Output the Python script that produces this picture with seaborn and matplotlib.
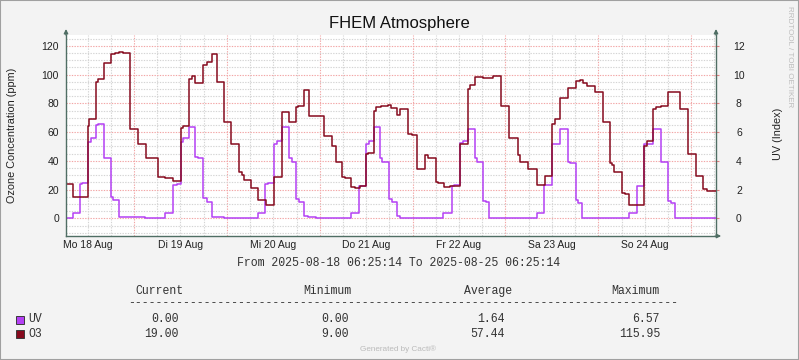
import matplotlib
matplotlib.use("Agg")
import matplotlib.pyplot as plt
import matplotlib.dates as mdates
from matplotlib.patches import Rectangle
from matplotlib.ticker import MultipleLocator
import pandas as pd
import seaborn as sns

# time window of the graph
start = pd.Timestamp("2025-08-18 06:25:14")
end = pd.Timestamp("2025-08-25 06:25:14")

# O3 steps: hours after start -> ppm
o3_hours = [0, 1.73, 5.69, 6.07, 7.68, 8.27, 9.74, 11.55, 12.66, 13.70,
            14.65, 16.62, 18.53, 20.75, 23.70, 25.59, 27.73, 29.64, 30.24, 31.79,
            32.64, 33.42, 35.49, 36.36, 37.73, 38.95, 40.76, 42.64, 44.63, 45.36,
            46.00, 47.74, 49.54, 51.17, 51.69, 53.68, 55.75, 57.63, 59.52, 59.96,
            61.59, 62.73, 66.60, 68.67, 69.78, 71.41, 72.11, 73.58, 74.69, 75.98,
            77.61, 78.05, 79.52, 80.12, 81.41, 83.14, 83.92, 85.63, 86.25, 88.47,
            89.35, 90.64, 92.71, 93.64, 95.55, 96.22, 97.69, 99.24, 101.75, 103.82,
            104.41, 105.71, 107.85, 110.44, 112.43, 114.57, 116.74, 117.34, 119.48, 121.65,
            123.80, 125.53, 126.38, 127.67, 129.66, 131.73, 132.84, 133.70, 134.57, 136.72,
            138.87, 140.52, 141.04, 141.71, 143.62, 144.47, 145.51, 149.46, 150.16, 151.63,
            152.41, 153.78, 155.67, 158.69, 160.83, 162.75, 164.56, 165.59, 168.0]
o3_values = [24, 14.5, 64.5, 69, 95, 97, 108, 114.5, 115.3, 115.95,
             115, 62, 52, 42, 29, 28, 26, 63, 64.5, 97,
             99, 94.5, 107, 108.6, 114.5, 95, 67, 51.5, 32, 30,
             27, 21, 12.5, 13, 9, 28.5, 74, 67.3, 77.5, 78,
             89, 71.5, 57, 50, 39, 29, 28, 22, 21.3, 22.5,
             44.5, 45.5, 75, 77.7, 78, 78.7, 76.5, 72, 76, 59,
             58, 34.3, 44, 42, 25.5, 24.6, 22, 22.5, 51.7, 90,
             92.6, 98.4, 97.7, 98.8, 78, 55.7, 44, 39, 34.3, 23,
             29.7, 66, 69, 83.6, 90.5, 95.8, 96.5, 94.2, 92, 88,
             67, 38.3, 37.4, 32, 17.8, 17, 9, 50, 53.6, 76.3,
             77.7, 78.4, 87.7, 76, 45, 29.7, 20.2, 19, 19]

# UV steps: hours after start -> UV index
uv_hours = [0, 1.73, 3.62, 4.14, 5.61, 6.38, 7.68, 8.35, 9.74, 11.55,
            12.22, 13.78, 20.42, 25.59, 27.73, 28.61, 29.64, 30.31, 31.79, 33.42,
            34.19, 35.49, 36.36, 37.73, 40.84, 49.54, 51.43, 52.13, 53.68, 54.46,
            55.75, 57.63, 58.33, 59.52, 60.22, 61.59, 62.62, 64.54, 73.58, 75.80,
            77.61, 78.31, 79.52, 81.23, 81.75, 83.48, 84.18, 85.63, 86.32, 97.51,
            99.68, 100.28, 101.75, 102.53, 103.82, 104.41, 105.71, 106.30, 107.70, 108.55,
            109.40, 121.65, 123.54, 125.53, 127.67, 128.53, 129.66, 130.26, 131.73, 132.40,
            133.44, 145.51, 147.57, 149.46, 151.63, 153.78, 155.67, 156.36, 157.40, 168.0]
uv_values = [0, 0.35, 2.4, 2.48, 5.3, 5.57, 6.5, 6.57, 4.22, 1.5,
             1.27, 0.07, 0, 0.35, 2.35, 2.42, 5.3, 5.57, 6.34, 4.3,
             4.22, 1.44, 1.11, 0.07, 0, 0.35, 2.4, 2.48, 5.15, 5.38,
             6.34, 4.22, 3.94, 1.34, 1.11, 0.16, 0.12, 0, 0.35, 2.25,
             5.15, 5.38, 6.34, 4.22, 3.94, 1.34, 1.11, 0.16, 0, 0.35,
             2.25, 2.32, 5.27, 5.38, 6.2, 6.22, 4.18, 3.94, 1.2, 1.11,
             0, 0.35, 2.32, 5.15, 6.2, 6.22, 3.94, 3.83, 1.27, 1.04,
             0, 0.35, 2.27, 5.15, 6.2, 3.94, 1.2, 1.04, 0, 0]

day_labels = ["Mo 18 Aug", "Di 19 Aug", "Mi 20 Aug", "Do 21 Aug",
              "Fr 22 Aug", "Sa 23 Aug", "So 24 Aug"]
left_ticks = [0, 20, 40, 60, 80, 100, 120]
right_ticks = [0, 2, 4, 6, 8, 10, 12]

# legend table
stat_headers = ["Current", "Minimum", "Average", "Maximum"]
series_names = ["UV", "O3"]
uv_stats = ["0.00", "0.00", "1.64", "6.57"]
o3_stats = ["19.00", "9.00", "57.44", "115.95"]

UV_COLOR = "#B440F4"
O3_COLOR = "#860A1E"
AXIS_COLOR = "#4F6E64"
BG = "#F3F3F3"

sns.set_theme(style="white")
plt.rcParams["font.family"] = ["Liberation Sans", "DejaVu Sans"]

W, H = 799, 360
fig = plt.figure(figsize=(W / 100, H / 100), dpi=100, facecolor=BG)


def fx(px):
    return px / W


def fy(py):
    return 1 - py / H


ax = fig.add_axes([fx(66), fy(236), fx(650), (236 - 35) / H])
ax.set_facecolor("white")

uv_df = pd.DataFrame({"time": start + pd.to_timedelta(uv_hours, unit="h"),
                      "value": [v * 10 for v in uv_values]})
o3_df = pd.DataFrame({"time": start + pd.to_timedelta(o3_hours, unit="h"),
                      "value": o3_values})

sns.lineplot(data=uv_df, x="time", y="value", ax=ax, color=UV_COLOR, lw=1.1,
             drawstyle="steps-post", estimator=None, sort=False)
sns.lineplot(data=o3_df, x="time", y="value", ax=ax, color=O3_COLOR, lw=1.1,
             drawstyle="steps-post", estimator=None, sort=False)

ax.set_xlim(start, end)
ax.set_ylim(-12.3, 127.6)
ax.set_xlabel("")
ax.set_ylabel("")

# grid like rrdtool: red major, grey minor, dotted
ax.xaxis.set_major_locator(mdates.HourLocator(byhour=[0]))
ax.xaxis.set_minor_locator(mdates.HourLocator(byhour=[0, 6, 12, 18]))
ax.set_yticks(left_ticks)
ax.yaxis.set_minor_locator(MultipleLocator(5))
ax.grid(which="minor", color="#D4D4D4", ls=(0, (1.2, 1.2)), lw=0.8)
ax.grid(which="major", color="#F2A5A5", ls=(0, (1.2, 1.2)), lw=0.8)
ax.tick_params(axis="x", which="both", labelbottom=False)
ax.tick_params(axis="x", which="major", direction="inout", length=4, width=0.8,
               color="#E08080")
ax.tick_params(axis="x", which="minor", length=0)
ax.tick_params(axis="y", which="major", direction="inout", length=4, width=0.8,
               color="#E08080", pad=3, labelsize=7.5, labelcolor="#222222")
ax.tick_params(axis="y", which="minor", length=0)

for side in ["top", "right"]:
    ax.spines[side].set_visible(False)
for side in ["left", "bottom"]:
    ax.spines[side].set_color(AXIS_COLOR)
    ax.spines[side].set_linewidth(1)

# day labels centred at noon
noons = pd.date_range("2025-08-18 12:00", periods=len(day_labels), freq="D")
sec_x = ax.secondary_xaxis("bottom")
sec_x.set_xticks(mdates.date2num(noons), labels=day_labels)
sec_x.tick_params(length=0, pad=2.7, labelsize=7.5, labelcolor="#222222")
sec_x.spines["bottom"].set_visible(False)

# right axis for UV index
sec_y = ax.secondary_yaxis("right", functions=(lambda v: v / 10, lambda v: v * 10))
sec_y.set_yticks(right_ticks)
sec_y.tick_params(direction="inout", length=4, width=0.8, color="#E08080",
                  pad=14.5, labelsize=7.5, labelcolor="#222222")
plt.setp(sec_y.get_yticklabels(), ha="center")
sec_y.spines["right"].set_color(AXIS_COLOR)
sec_y.spines["right"].set_linewidth(1)

# axis arrows
arrow = dict(arrowstyle="-|>", color=AXIS_COLOR, lw=1, mutation_scale=6,
             shrinkA=0, shrinkB=0)
ax.annotate("", xy=(0, 1.03), xytext=(0, 1.0), xycoords="axes fraction",
            arrowprops=arrow, annotation_clip=False)
ax.annotate("", xy=(1, 1.03), xytext=(1, 1.0), xycoords="axes fraction",
            arrowprops=arrow, annotation_clip=False)
ax.annotate("", xy=(1.008, 0), xytext=(1.0, 0), xycoords="axes fraction",
            arrowprops=arrow, annotation_clip=False)

# texts around the plot
fig.text(fx(399), fy(28.3), "FHEM Atmosphere", ha="center", va="baseline",
         fontsize=12, color="#111111")
fig.text(fx(12), fy(135), "Ozone Concentration (ppm)", rotation=90,
         ha="center", va="center", fontsize=7.8, color="#222222")
fig.text(fx(778), fy(134), "UV (Index)", rotation=90,
         ha="center", va="center", fontsize=7.8, color="#222222")
fig.text(fx(789), fy(56.5), "RRDTOOL / TOBI OETIKER", rotation=-90,
         ha="center", va="center", fontsize=5.8, color="#BDBDBD")

mono = ["Liberation Mono", "DejaVu Sans Mono"]
fig.text(fx(399), fy(266), "From 2025-08-18 06:25:14 To 2025-08-25 06:25:14",
         ha="center", va="baseline", fontsize=8.3, family=mono, color="#333333")

header_x = [159, 327, 488, 635.5]
value_x = [178.3, 348.3, 504.3, 660]
for hx, name in zip(header_x, stat_headers):
    fig.text(fx(hx), fy(294), name, ha="center", va="baseline",
             fontsize=8.3, family=mono, color="#333333")
fig.text(fx(128.3), fy(306), "-" * 80, ha="left", va="baseline",
         fontsize=8.3, family=mono, color="#333333")

rows = [(series_names[0], uv_stats, UV_COLOR, 322.3),
        (series_names[1], o3_stats, O3_COLOR, 336.7)]
for name, stats, col, base in rows:
    fig.patches.append(Rectangle((fx(16), fy(base + 1.7)), fx(7.5), 8.5 / H,
                                 transform=fig.transFigure, facecolor=col,
                                 edgecolor="#3A3A3A", lw=0.7))
    fig.text(fx(28.3), fy(base), name, ha="left", va="baseline",
             fontsize=8.3, family=mono, color="#333333")
    for vx, s in zip(value_x, stats):
        fig.text(fx(vx), fy(base), s, ha="right", va="baseline",
                 fontsize=8.3, family=mono, color="#333333")

fig.text(fx(398), fy(351.3), "Generated by Cacti®", ha="center", va="baseline",
         fontsize=5.9, color="#BBBBBB")

# frame
fig.patches.append(Rectangle((0, 0), 1, 1, transform=fig.transFigure, fill=False,
                             edgecolor="#A0A0A0", lw=1.5))

fig.savefig("out.png", dpi=100, facecolor=BG)
